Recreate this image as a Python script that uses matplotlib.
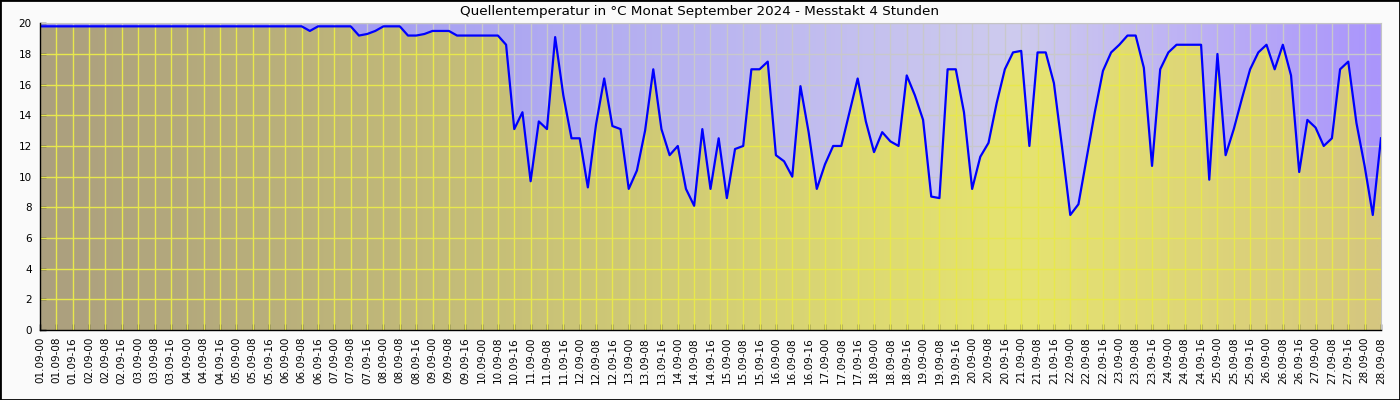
import numpy as np
import matplotlib.pyplot as plt
from matplotlib.colors import LinearSegmentedColormap
from matplotlib.patches import Rectangle

# Quellentemperatur in °C, Messtakt 4 Stunden, 01.09-00 bis 28.09-08
temperatur = [
    19.8, 19.8, 19.8, 19.8, 19.8, 19.8, 19.8, 19.8, 19.8, 19.8,
    19.8, 19.8, 19.8, 19.8, 19.8, 19.8, 19.8, 19.8, 19.8, 19.8,
    19.8, 19.8, 19.8, 19.8, 19.8, 19.8, 19.8, 19.8, 19.8, 19.8,
    19.8, 19.8, 19.8, 19.5, 19.8, 19.8, 19.8, 19.8, 19.8, 19.2,
    19.3, 19.5, 19.8, 19.8, 19.8, 19.2, 19.2, 19.3, 19.5, 19.5,
    19.5, 19.2, 19.2, 19.2, 19.2, 19.2, 19.2, 18.6, 13.1, 14.2,
    9.7, 13.6, 13.1, 19.1, 15.3, 12.5, 12.5, 9.3, 13.4, 16.4,
    13.3, 13.1, 9.2, 10.4, 13.0, 17.0, 13.1, 11.4, 12.0, 9.2,
    8.1, 13.1, 9.2, 12.5, 8.6, 11.8, 12.0, 17.0, 17.0, 17.5,
    11.4, 11.0, 10.0, 15.9, 12.9, 9.2, 10.8, 12.0, 12.0, 14.2,
    16.4, 13.6, 11.6, 12.9, 12.3, 12.0, 16.6, 15.3, 13.7, 8.7,
    8.6, 17.0, 17.0, 14.2, 9.2, 11.3, 12.2, 14.8, 17.0, 18.1,
    18.2, 12.0, 18.1, 18.1, 16.1, 11.9, 7.5, 8.2, 11.2, 14.2,
    16.9, 18.1, 18.6, 19.2, 19.2, 17.1, 10.7, 17.0, 18.1, 18.6,
    18.6, 18.6, 18.6, 9.8, 18.0, 11.4, 13.1, 15.1, 17.0, 18.1,
    18.6, 17.0, 18.6, 16.6, 10.3, 13.7, 13.2, 12.0, 12.5, 17.0,
    17.5, 13.5, 10.7, 7.5, 12.5,
]

tage = ['%02d.09' % d for d in range(1, 29)]
stunden = ['00', '08', '16']
tick_labels = [f'{t}-{s}' for t in tage for s in stunden][:83]
y_ticks = [0, 2, 4, 6, 8, 10, 12, 14, 16, 18, 20]

titel = 'Quellentemperatur in °C Monat September 2024 - Messtakt 4 Stunden'

x = np.arange(len(temperatur))
x_ticks = x[::2]
x_max = x[-1]

fig = plt.figure(figsize=(14, 4), dpi=100, facecolor='#fafafa')
ax = fig.add_axes([0.0286, 0.175, 0.9578, 0.7668])

# Verlauf oben (ueber der Kurve) und unten (unter der Kurve)
grad = np.linspace(0, 1, 512).reshape(1, -1)
cmap_oben = LinearSegmentedColormap.from_list(
    'oben', [(0, '#8f86f5'), (0.73, '#cecbee'), (1, '#aa95fc')])
cmap_unten = LinearSegmentedColormap.from_list(
    'unten', [(0, '#ab9f7f'), (0.73, '#e6e470'), (1, '#d5c680')])

ax.imshow(grad, cmap=cmap_oben, extent=[0, x_max, 0, 20], aspect='auto', zorder=0)

# graues Gitter im oberen Bereich
ax.vlines(x_ticks[1:], 0, 20, color='#c8c8cc', lw=1, zorder=0.5)
ax.hlines(y_ticks[1:], 0, x_max, color='#c8c8cc', lw=1, zorder=0.5)

poly = ax.fill_between(x, 0, temperatur, facecolor='none', edgecolor='none', zorder=1)
clip = poly.get_paths()[0]
im = ax.imshow(grad, cmap=cmap_unten, extent=[0, x_max, 0, 20], aspect='auto', zorder=1)
im.set_clip_path(clip, transform=ax.transData)

# gelbes Gitter unter der Kurve
vl = ax.vlines(x_ticks[1:], 0, 20, color='#e8e84c', lw=1, zorder=2)
hl = ax.hlines(y_ticks[1:], 0, x_max, color='#e8e84c', lw=1, zorder=2)
vl.set_clip_path(clip, transform=ax.transData)
hl.set_clip_path(clip, transform=ax.transData)

ax.plot(x, temperatur, color='#0000ff', lw=1.6, zorder=3)

ax.set_xlim(0, x_max)
ax.set_ylim(0, 20)
ax.set_xticks(x_ticks)
ax.set_xticklabels(tick_labels, rotation=90, fontsize=7.5)
ax.set_yticks(y_ticks)
ax.set_yticklabels([str(v) for v in y_ticks], fontsize=7.5)
ax.tick_params(axis='both', direction='in', length=4, width=1, color='black')
ax.tick_params(axis='x', pad=5)
ax.tick_params(axis='y', pad=6)

for s in ['top', 'right']:
    ax.spines[s].set_color('#c4c4c4')
for s in ['left', 'bottom']:
    ax.spines[s].set_color('black')
    ax.spines[s].set_linewidth(1)
    ax.spines[s].set_zorder(4)

fig.text(0.5, 0.972, titel, ha='center', va='center', fontsize=9.7)
fig.patches.append(Rectangle((0, 0), 1, 1, transform=fig.transFigure,
                             fill=False, edgecolor='black', lw=2))

fig.savefig('out.png', dpi=100, facecolor=fig.get_facecolor())
